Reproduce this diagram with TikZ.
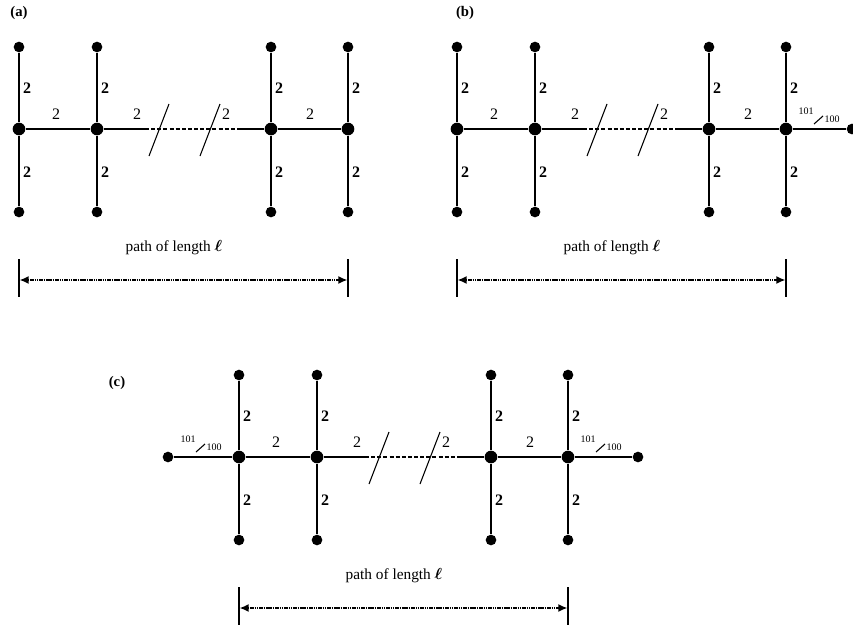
\documentclass[tikz,border=0pt]{standalone}
\usepackage{fontspec}
\setmainfont{Liberation Serif}
\usepackage{amsmath}
\usepackage{bm}
\usetikzlibrary{arrows.meta}
\tikzset{
  spinev/.style={circle,fill=black,inner sep=0pt,minimum size=9.5pt},
  leafv/.style={circle,fill=black,inner sep=0pt,minimum size=8pt},
  edge/.style={line width=1.9pt},
  brk/.style={line width=1.9pt,dash pattern=on 3pt off 1.6pt},
  slash/.style={line width=0.8pt},
  lab/.style={font=\fontsize{12}{14}\selectfont,inner sep=0pt},
  vlab/.style={font=\bfseries\fontsize{12}{14}\selectfont,inner sep=0pt},
  frac/.style={font=\fontsize{7.5}{8}\selectfont,inner sep=0pt},
  tag/.style={font=\bfseries\fontsize{11}{13}\selectfont,inner sep=0pt},
  bar/.style={line width=0.9pt},
  len/.style={line width=2pt,dash pattern=on 1.2pt off 0.5pt,{Latex[length=7pt,width=6pt]}-{Latex[length=7pt,width=6pt]},shorten <=0.3pt,shorten >=0.3pt},
  pathtxt/.style={font=\fontsize{11.5}{13}\selectfont,inner sep=0pt}
}
\newcommand\mygraph[3]{%
\begin{scope}[shift={(#2,#3)}]
\foreach \i/\x in {1/19,2/97,3/271,4/348}{
  \node[spinev] (#1\i) at (\x,129) {};
  \node[leafv] (#1t\i) at (\x,47) {};
  \node[leafv] (#1b\i) at (\x,212) {};
  \draw[edge] (#1t\i) -- (#1\i) -- (#1b\i);
  \node[vlab] (#1lt\i) at ({\x+8},88) {2};
  \node[vlab] (#1lb\i) at ({\x+8},172) {2};
}
\coordinate (#1d1) at (145,129);
\coordinate (#1d2) at (238,129);
\draw[edge] (#11) -- (#12);
\draw[edge] (#12) -- (#1d1);
\draw[brk] (#1d1) -- (#1d2);
\draw[edge] (#1d2) -- (#13);
\draw[edge] (#13) -- (#14);
\coordinate (#1s1a) at (169,104);
\coordinate (#1s1b) at (149,156);
\coordinate (#1s2a) at (220,104);
\coordinate (#1s2b) at (200,156);
\draw[slash] (#1s1a) -- (#1s1b);
\draw[slash] (#1s2a) -- (#1s2b);
\node[lab] (#1h1) at (56,114) {2};
\node[lab] (#1h2) at (137,114) {2};
\node[lab] (#1h3) at (226,114) {2};
\node[lab] (#1h4) at (310,114) {2};
\coordinate (#1bar1a) at (19,259);
\coordinate (#1bar1b) at (19,297);
\coordinate (#1bar2a) at (348,259);
\coordinate (#1bar2b) at (348,297);
\draw[bar] (#1bar1a) -- (#1bar1b);
\draw[bar] (#1bar2a) -- (#1bar2b);
\coordinate (#1ar1) at (19,280);
\coordinate (#1ar2) at (348,280);
\draw[len] (#1ar1) -- (#1ar2);
\node[pathtxt] (#1ptxt) at (174,248) {path of length $\bm{\ell}$};
\end{scope}}
\newcommand\myfrac[4]{% prefix, x of left end, y shift, x shift
\begin{scope}[shift={(#4,#3)}]
\node[frac] (#1n) at ({#2+20},111) {101};
\coordinate (#1sa) at ({#2+37},116);
\coordinate (#1sb) at ({#2+28},124);
\draw[slash] (#1sa) -- (#1sb);
\node[frac] (#1d) at ({#2+46},119) {100};
\end{scope}}
\begin{document}
\begin{tikzpicture}[x=0.75pt,y=-0.75pt]
\useasboundingbox (0,0) rectangle (853,625);
% (a)
\node[tag] (ta) at (19,13) {(a)};
\mygraph{a}{0}{0}
% (b)
\node[tag] (tb) at (465,13) {(b)};
\mygraph{b}{438}{0}
\node[leafv] (bp) at (852,129) {};
\draw[edge] (b4) -- (bp);
\myfrac{bf}{348}{0}{438}
% (c)
\node[tag] (tc) at (117,383) {(c)};
\mygraph{c}{220}{328}
\node[leafv] (cpl) at (168,457) {};
\node[leafv] (cpr) at (638,457) {};
\draw[edge] (cpl) -- (c1);
\draw[edge] (c4) -- (cpr);
\myfrac{cfl}{-52}{328}{220}
\myfrac{cfr}{348}{328}{220}
\end{tikzpicture}
\end{document}
